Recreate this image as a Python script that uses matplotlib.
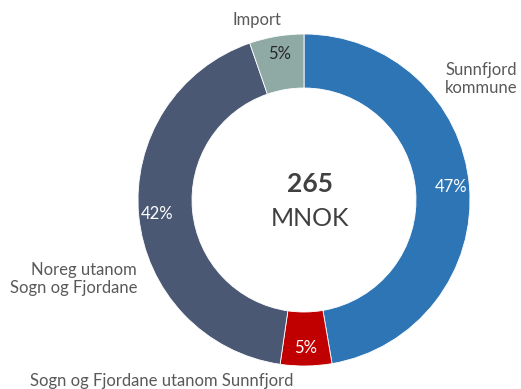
import matplotlib.pyplot as plt

# Production value by market, share of total (MNOK)
categories = [
    "Sunnfjord kommune",
    "Sogn og Fjordane utanom Sunnfjord",
    "Noreg utanom Sogn og Fjordane",
    "Import",
]
shares = [47.3, 5.0, 42.4, 5.3]
total_mnok = 265
colors = ["#2E75B6", "#C00000", "#4A5874", "#8FAAA5"]
pct_colors = ["white", "white", "white", "#262626"]

W, H = 521, 389
plt.rcParams["font.family"] = ["Lato", "DejaVu Sans"]

fig = plt.figure(figsize=(W / 100, H / 100), dpi=100)
ax = fig.add_axes([0, 0, 1, 1])

cx, cy, r = 304, H - 200, 166
wedges, _, autotexts = ax.pie(
    shares,
    colors=colors,
    startangle=90,
    counterclock=False,
    center=(cx, cy),
    radius=r,
    autopct=lambda p: f"{p:.0f}%",
    pctdistance=0.89,
    wedgeprops=dict(width=54, edgecolor="white", linewidth=0.6),
    frame=True,
)
ax.set_xlim(0, W)
ax.set_ylim(0, H)
ax.set_aspect("equal")
ax.axis("off")
for t, c in zip(autotexts, pct_colors):
    t.set_color(c)
    t.set_fontsize(12)

label_color = "#595959"
fs = 12
ax.text(257, H - 20, categories[3], ha="center", va="center", fontsize=fs, color=label_color)
ax.text(445, H - 79, "Sunnfjord\nkommune", ha="left", va="center", fontsize=fs,
        color=label_color, linespacing=1.2)
ax.text(137, H - 279, "Noreg utanom\nSogn og Fjordane", ha="right", va="center",
        fontsize=fs, color=label_color, linespacing=1.2)
ax.text(30, H - 381, categories[1], ha="left", va="center", fontsize=fs, color=label_color)

ax.text(310, H - 184, f"{total_mnok}", ha="center", va="center", fontsize=19,
        fontweight="bold", color="#404040")
ax.text(310, H - 218, "MNOK", ha="center", va="center", fontsize=18, color="#404040")

fig.savefig("out.png", dpi=100)
